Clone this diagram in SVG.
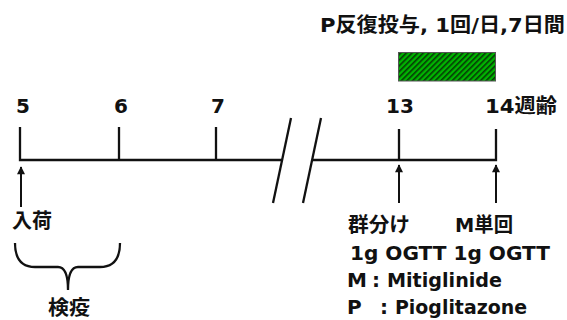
<svg xmlns="http://www.w3.org/2000/svg" width="567" height="320" viewBox="0 0 567 320">
<defs>
<style>
text{font-family:"DejaVu Sans","Noto Sans CJK JP",sans-serif;font-weight:bold;font-size:20px;fill:#111}
.ln{stroke:#111;stroke-width:2.3;fill:none}
.ar{stroke:#111;stroke-width:2;fill:none;marker-end:url(#ah)}
</style>
<marker id="ah" viewBox="0 0 10 10" refX="9" refY="5" markerWidth="4.5" markerHeight="4" orient="auto">
<path d="M0,0 L10,5 L0,10 Z" fill="#111"/>
</marker>
<pattern id="hatch" patternUnits="userSpaceOnUse" width="4" height="4" patternTransform="rotate(45)">
<rect width="4" height="4" fill="#00b400"/>
<rect width="1.6" height="4" fill="#063806"/>
</pattern>
</defs>
<g id="title"><text x="320" y="32" textLength="245" lengthAdjust="spacingAndGlyphs">P反復投与, 1回/日,7日間</text></g>
<g id="dosing-bar"><rect x="398.5" y="52.5" width="97" height="28.5" fill="url(#hatch)" stroke="#555" stroke-width="1"/></g>
<g id="connectors">
<path class="ln" d="M20,127 L20,160 L282,160"/>
<path class="ln" d="M119,127 L119,160"/>
<path class="ln" d="M216,127 L216,160"/>
<path class="ln" d="M291,118 L273,203"/>
<path class="ln" d="M321,118 L303,203"/>
<path class="ln" d="M313,160 L496,160 L496,129"/>
<path class="ln" d="M399,129 L399,160"/>
<path class="ar" d="M21,207 L21,167"/>
<path class="ar" d="M399,203 L399,165"/>
<path class="ar" d="M496,203 L496,165"/>
<path class="ln" d="M15,243 Q15,267 35,267 L58,267 Q68,267 68,290 M120,243 Q120,267 100,267 L78,267 Q68,267 68,290"/>
</g>
<g id="tick-labels">
<text x="23" y="113" text-anchor="middle">5</text>
<text x="121" y="113" text-anchor="middle">6</text>
<text x="218" y="113" text-anchor="middle">7</text>
<text x="400" y="113" text-anchor="middle">13</text>
<text x="485" y="113" textLength="72" lengthAdjust="spacingAndGlyphs">14週齢</text>
</g>
<g id="arrival"><text x="12" y="228" textLength="40" lengthAdjust="spacingAndGlyphs">入荷</text></g>
<g id="quarantine"><text x="48" y="315" textLength="42" lengthAdjust="spacingAndGlyphs">検疫</text></g>
<g id="grouping"><text x="348" y="232" textLength="62" lengthAdjust="spacingAndGlyphs">群分け</text></g>
<g id="single-dose"><text x="455" y="232" textLength="58" lengthAdjust="spacingAndGlyphs">M単回</text></g>
<g id="ogtt"><text x="350" y="260" textLength="200" lengthAdjust="spacingAndGlyphs">1g OGTT 1g OGTT</text></g>
<g id="legend">
<text x="347" y="287">M</text><text x="372" y="287">:</text><text x="387" y="287" textLength="115" lengthAdjust="spacingAndGlyphs">Mitiglinide</text>
<text x="347" y="314">P</text><text x="380" y="314">:</text><text x="395" y="314" textLength="132" lengthAdjust="spacingAndGlyphs">Pioglitazone</text>
</g>
</svg>
